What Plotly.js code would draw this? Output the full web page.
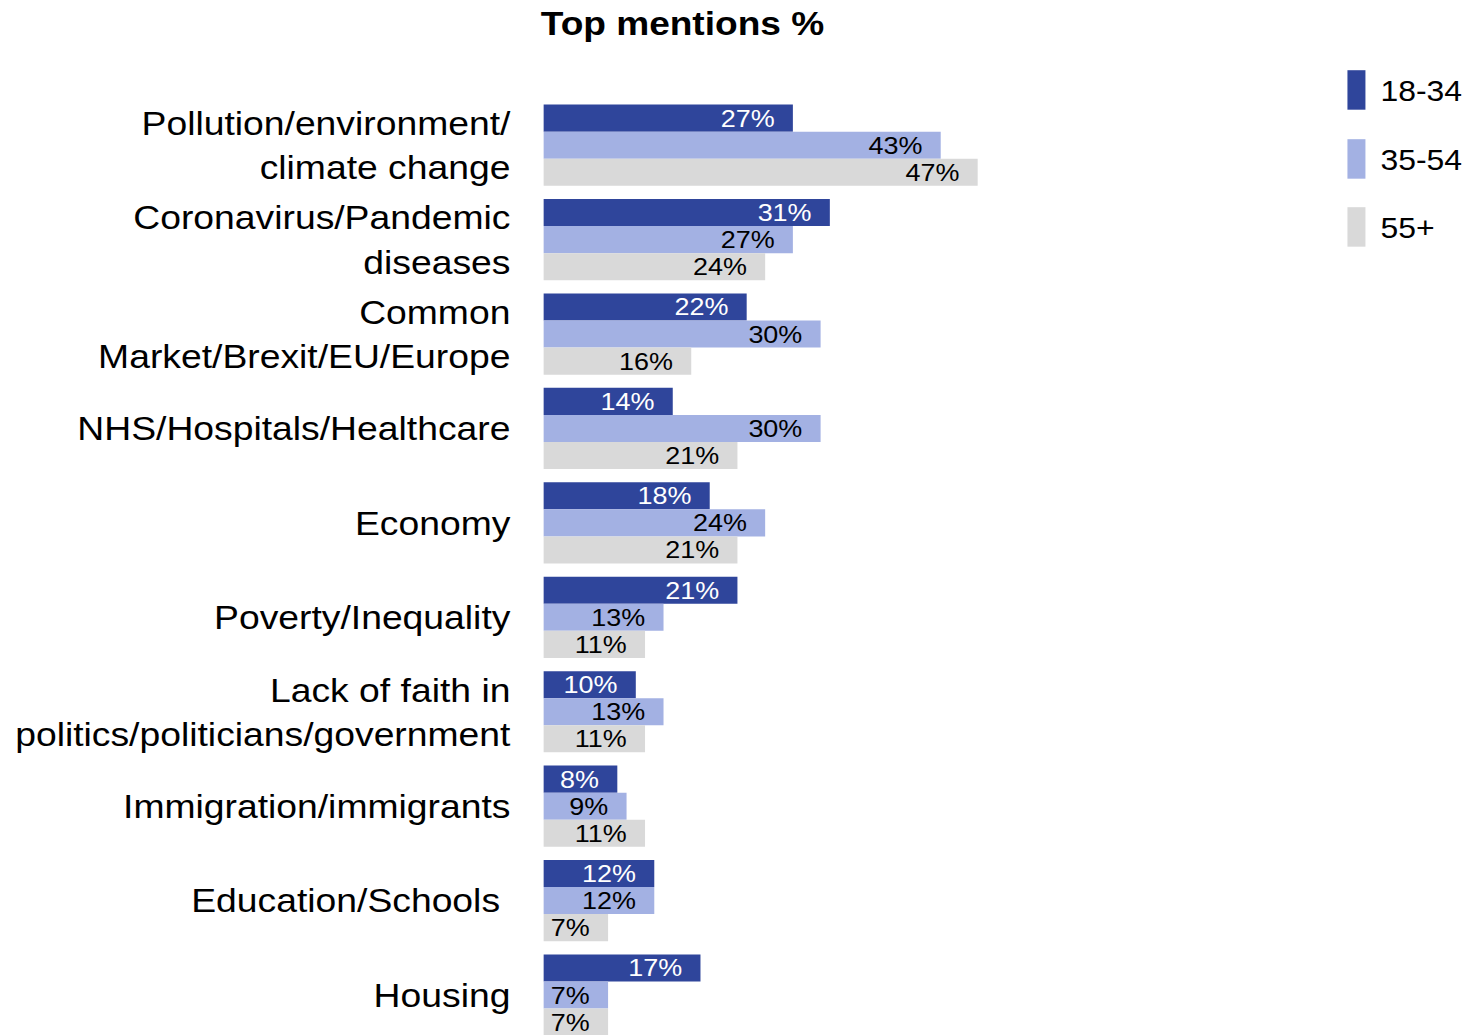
<!DOCTYPE html>
<html>
<head>
<meta charset="utf-8">
<script src="https://cdn.plot.ly/plotly-3.0.1.min.js"></script>
<style>
html, body { margin:0; padding:0; background:#fff; overflow:hidden; }
#plot { width:1342px; height:1035px; transform:scaleX(1.1); transform-origin:0 0; }
</style>
</head>
<body>
<div id="plot"></div>
<script>
// ---- data ----
const categories = [
  "Pollution/environment/<br>climate change",
  "Coronavirus/Pandemic<br>diseases",
  "Common<br>Market/Brexit/EU/Europe",
  "NHS/Hospitals/Healthcare",
  "Economy",
  "Poverty/Inequality",
  "Lack of faith in<br>politics/politicians/government",
  "Immigration/immigrants",
  "Education/Schools\u00a0",
  "Housing"
];
const seriesNames = ["18-34", "35-54", "55+"];
const age18_34 = [27, 31, 22, 14, 18, 21, 10, 8, 12, 17];
const age35_54 = [43, 27, 30, 30, 24, 13, 13, 9, 12, 7];
const age55plus = [47, 24, 16, 21, 21, 11, 11, 11, 7, 7];
const chartTitle = "Top mentions %";

// ---- styles ----
const colors = ["#2F459B", "#A3B1E3", "#D9D9D9"];
const textColors = ["#FFFFFF", "#000000", "#000000"];
const FONT = "Liberation Sans, Arial, sans-serif";
const seriesValues = [age18_34, age35_54, age55plus];

const traces = seriesValues.map((vals, i) => ({
  type: "bar",
  orientation: "h",
  name: seriesNames[i],
  y: categories,
  x: vals,
  marker: { color: colors[i], line: { width: 0 } },
  texttemplate: "%{x}%\u00a0\u00a0",
  textposition: "inside",
  insidetextanchor: "end",
  constraintext: "none",
  insidetextfont: { family: FONT, size: 24.5, color: textColors[i] },
  hoverinfo: "skip",
  cliponaxis: true
}));

// plot geometry (pre-transform pixels)
const H = 1035, mT = 97.8, mB = 0, mL = 493.6, mR = 176.4;
const plotH = H - mT - mB;
function py(p) { return 1 - (p - mT) / plotH; }   // pixel y -> paper y
const plotW = 1342 - mL - mR;
function px(p) { return (p - mL) / plotW; }       // pixel x (pre-transform) -> paper x

const shapes = [], annotations = [];
const legTop = [70, 139, 207];
seriesNames.forEach((n, i) => {
  const t = legTop[i];
  shapes.push({
    type: "rect", xref: "paper", yref: "paper",
    x0: px(1347 / 1.1), x1: px(1365 / 1.1),
    y0: py(t + 39.5), y1: py(t),
    fillcolor: colors[i], line: { width: 0 }
  });
  annotations.push({
    xref: "paper", yref: "paper",
    x: px(1378 / 1.1), y: py(t + 20.5),
    xanchor: "left", yanchor: "middle",
    text: n, showarrow: false,
    font: { family: FONT, size: 29, color: "#000" }
  });
});

const layout = {
  width: 1342, height: H,
  margin: { l: mL, r: mR, t: mT, b: mB, pad: 0 },
  paper_bgcolor: "#fff", plot_bgcolor: "#fff",
  showlegend: false,
  barmode: "group",
  bargap: 0.14,
  bargroupgap: 0,
  title: {
    text: "<b>" + chartTitle + "</b>",
    font: { family: FONT, size: 33.7, color: "#000" },
    xref: "paper", x: px(682 / 1.1), xanchor: "center",
    yref: "container", y: 1 - 23.5 / H, yanchor: "middle"
  },
  xaxis: {
    range: [0, 80], visible: false, fixedrange: true
  },
  yaxis: {
    type: "category",
    categoryorder: "array", categoryarray: categories,
    range: [9.4236, -0.5], autorange: false,
    showgrid: false, zeroline: false, showline: false,
    ticks: "", ticklabelstandoff: 29,
    tickfont: { family: FONT, size: 33.9, color: "#000" },
    fixedrange: true
  },
  shapes: shapes,
  annotations: annotations
};

Plotly.newPlot("plot", traces, layout, { staticPlot: true, displayModeBar: false });
</script>
</body>
</html>
